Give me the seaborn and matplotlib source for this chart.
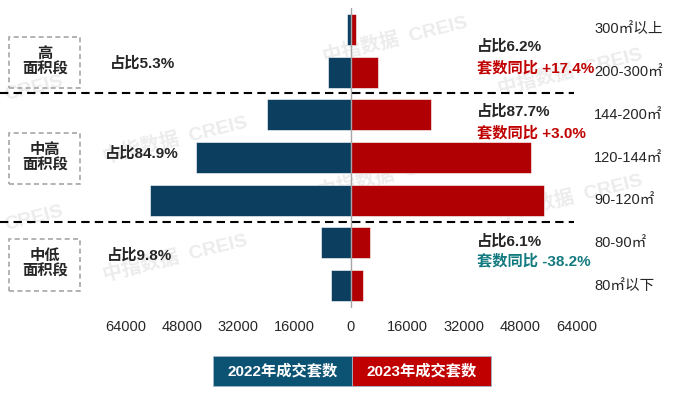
import matplotlib.pyplot as plt
import matplotlib.patches as mpatches
import pandas as pd
import seaborn as sns

# data
categories = ['300㎡以上', '200-300㎡', '144-200㎡', '120-144㎡', '90-120㎡', '80-90㎡', '80㎡以下']
sales_2022 = [1150, 6600, 23900, 43900, 57000, 8500, 5700]
sales_2023 = [1400, 7700, 22700, 51200, 54900, 5400, 3400]
years = ['2022年成交套数', '2023年成交套数']
tick_values = [-64000, -48000, -32000, -16000, 0, 16000, 32000, 48000, 64000]

groups = ['高\n面积段', '中高\n面积段', '中低\n面积段']
share_2022 = ['占比5.3%', '占比84.9%', '占比9.8%']
share_2023 = ['占比6.2%', '占比87.7%', '占比6.1%']
yoy_text = ['套数同比 +17.4%', '套数同比 +3.0%', '套数同比 -38.2%']

sns.set_style('white')
plt.rcParams['font.family'] = ['Liberation Sans', 'Noto Sans CJK SC', 'DejaVu Sans']
plt.rcParams['axes.unicode_minus'] = False

W, H = 674, 393
def fx(x):
    return x / W
def fy(y):
    return 1 - y / H

df = pd.DataFrame({
    'area': categories * 2,
    'value': [-v for v in sales_2022] + sales_2023,
    'year': [years[0]] * len(categories) + [years[1]] * len(categories),
})

fig = plt.figure(figsize=(6.74, 3.93), dpi=100)
ax = fig.add_axes([0, 83 / H, 1, 305 / H])

sns.barplot(data=df, x='value', y='area', hue='year', order=categories,
            palette=['#0c3f5f', '#b00004'], saturation=1, dodge=False, width=0.72,
            edgecolor='white', linewidth=0.4, ax=ax)
if ax.legend_ is not None:
    ax.legend_.remove()

k = 64000 / 225.5  # units per pixel
ax.set_xlim(-351 * k, 323 * k)
ax.set_ylim(6.574, -0.574)
for s in ax.spines.values():
    s.set_visible(False)

ax.set_xticks(tick_values)
ax.set_xticklabels([str(abs(v)) for v in tick_values])
ax.tick_params(axis='x', length=0, pad=7, labelsize=10.5)
ax.set_yticks([])
ax.set_xlabel('')
ax.set_ylabel('')

# zero line and group separators
ax.axvline(0, ymin=0.01, ymax=0.99, color='#a6a6a6', lw=1, zorder=3)
for yy in [1.5, 4.5]:
    ax.plot([-351 * k, 223 * k], [yy, yy], color='black', lw=1.5,
            ls=(0, (4, 2.5)), zorder=3)

# category labels on the right
for i, c in enumerate(categories):
    ax.text(243 * k, i, c, va='center', ha='left', fontsize=10.5)

# watermarks
for (x, y) in [(175, 140), (175, 258), (570, 72), (570, 198), (395, 40), (390, 175)]:
    ax.text(fx(x), fy(y), '中指数据  CREIS', transform=fig.transFigure, rotation=14,
            ha='center', va='center', fontsize=14, fontweight='bold',
            color='#ececec', zorder=0)
for (x, y) in [(34, 88), (34, 218)]:
    ax.text(fx(x), fy(y), 'CREIS', transform=fig.transFigure, rotation=14,
            ha='center', va='center', fontsize=14, fontweight='bold',
            color='#ececec', zorder=0)

# group boxes on the left
boxes = [(37, 88), (133, 184), (239, 291)]
for (y0, y1), g in zip(boxes, groups):
    fig.add_artist(mpatches.Rectangle((fx(9), fy(y1)), 71 / W, (y1 - y0) / H,
                                      transform=fig.transFigure, fill=False,
                                      ls=(0, (3, 2)), edgecolor='#a6a6a6', lw=1.2))
    fig.text(fx(45), fy((y0 + y1) / 2 - 1), g, ha='center', va='center',
             fontsize=11, fontweight='bold', linespacing=1.15)

# share annotations
for (x, y), t in zip([(110, 63), (105, 153), (107, 255)], share_2022):
    fig.text(fx(x), fy(y), t, ha='left', va='center', fontsize=11, fontweight='bold')
for (x, y), t in zip([(477, 46), (477, 111), (477, 241)], share_2023):
    fig.text(fx(x), fy(y), t, ha='left', va='center', fontsize=11, fontweight='bold')
for (x, y), t, c in zip([(477, 68), (477, 133), (477, 261)], yoy_text,
                        ['#c00000', '#c00000', '#137a80']):
    fig.text(fx(x), fy(y), t, ha='left', va='center', fontsize=11,
             fontweight='bold', color=c)

# legend boxes
for (x0, x1), label, c in zip([(213, 352), (352, 491)], years, ['#0b5273', '#c00000']):
    fig.add_artist(mpatches.Rectangle((fx(x0), fy(386)), (x1 - x0) / W, 30 / H,
                                      transform=fig.transFigure, facecolor=c,
                                      edgecolor='#9fb8c8', lw=0.6))
    fig.text(fx((x0 + x1) / 2), fy(371), label, ha='center', va='center',
             fontsize=11, fontweight='bold', color='white')

fig.savefig('out.png', dpi=100)
